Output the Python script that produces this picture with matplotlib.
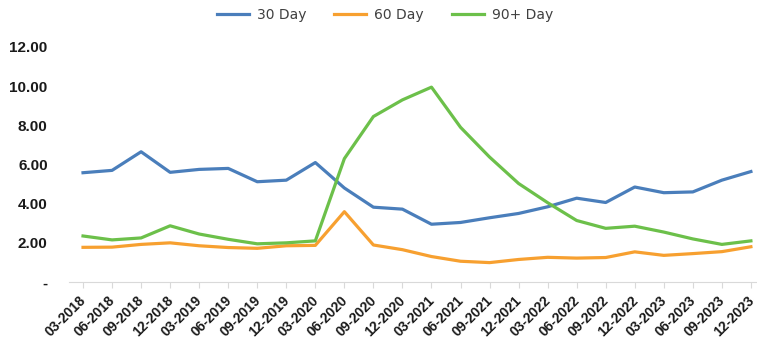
import matplotlib
matplotlib.use("Agg")
import matplotlib.pyplot as plt
import matplotlib.ticker as tck
import matplotlib.transforms as mtrans

# quarterly delinquency rates (%)
quarters = ["03-2018", "06-2018", "09-2018", "12-2018", "03-2019", "06-2019",
            "09-2019", "12-2019", "03-2020", "06-2020", "09-2020", "12-2020",
            "03-2021", "06-2021", "09-2021", "12-2021", "03-2022", "06-2022",
            "09-2022", "12-2022", "03-2023", "06-2023", "09-2023", "12-2023"]
day30 = [5.58, 5.70, 6.65, 5.60, 5.75, 5.80, 5.12, 5.20, 6.10, 4.80, 3.82, 3.72,
         2.95, 3.04, 3.28, 3.50, 3.84, 4.28, 4.06, 4.85, 4.56, 4.60, 5.20, 5.64]
day60 = [1.77, 1.78, 1.92, 2.00, 1.85, 1.76, 1.72, 1.85, 1.87, 3.59, 1.89, 1.65,
         1.30, 1.06, 0.99, 1.15, 1.26, 1.22, 1.25, 1.54, 1.36, 1.45, 1.55, 1.80]
day90 = [2.35, 2.15, 2.25, 2.87, 2.45, 2.18, 1.95, 2.00, 2.10, 6.30, 8.45, 9.30,
         9.95, 7.90, 6.38, 5.03, 4.05, 3.14, 2.74, 2.85, 2.55, 2.20, 1.92, 2.10]

fig = plt.figure(figsize=(7.57, 3.43), dpi=100)
ax = fig.add_axes([68.5 / 757, 61 / 343, 1 - 68.5 / 757, (296 - 61) / 343])

x = range(len(quarters))
ax.plot(x, day30, color="#4a7ebb", lw=2.3, label="30 Day", solid_joinstyle="round")
ax.plot(x, day60, color="#f7a030", lw=2.3, label="60 Day", solid_joinstyle="round")
ax.plot(x, day90, color="#6cc04a", lw=2.3, label="90+ Day", solid_joinstyle="round")

ax.set_xlim(-0.5, 23.21)
ax.set_ylim(0, 12)
ax.set_yticks([0, 2, 4, 6, 8, 10, 12])
ax.yaxis.set_major_formatter(tck.FuncFormatter(lambda v, p: "-" if v == 0 else "%.2f" % v))

for s in ["top", "right", "left"]:
    ax.spines[s].set_visible(False)
ax.spines["bottom"].set_color("#d9d9d9")
ax.tick_params(axis="y", length=0, pad=15)
ax.tick_params(axis="x", length=4, color="#d9d9d9", pad=2)

ax.set_xticks(list(x))
ax.set_xticklabels(quarters, rotation=45, ha="right", va="top", rotation_mode="anchor")
# nudge the rotated labels a little left/down so the last one stays inside
shift = mtrans.ScaledTranslation(-4 / 100, -3 / 100, fig.dpi_scale_trans)
for lab in ax.get_xticklabels():
    lab.set_fontfamily("Liberation Sans")
    lab.set_fontweight("bold")
    lab.set_fontsize(10)
    lab.set_color("#1a1a1a")
    lab.set_transform(lab.get_transform() + shift)
for lab in ax.get_yticklabels():
    lab.set_fontfamily("Liberation Sans")
    lab.set_fontweight("bold")
    lab.set_fontsize(11)
    lab.set_color("#1a1a1a")

leg = ax.legend(loc="center", bbox_to_anchor=(0.5 - 68.5 / 757 / 2 + 0.005, 1.137), ncol=3,
                frameon=False, prop={"family": "DejaVu Sans", "size": 10},
                handlelength=2.3, columnspacing=2.0, handletextpad=0.6)
for t in leg.get_texts():
    t.set_color("#404040")

fig.savefig("out.png", dpi=100)
